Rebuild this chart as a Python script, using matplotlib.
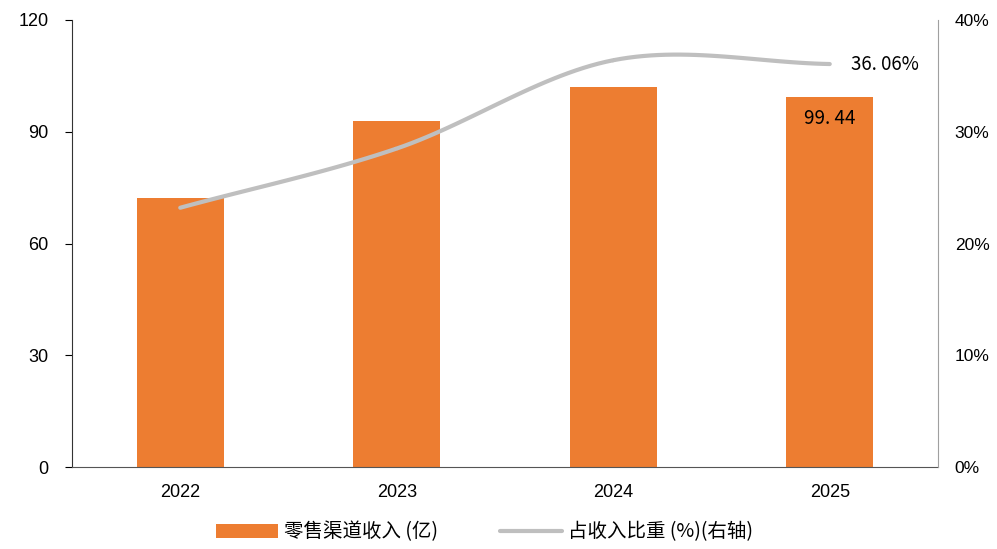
import numpy as np
import matplotlib
matplotlib.use("Agg")
import matplotlib.pyplot as plt
from matplotlib.ticker import FuncFormatter

plt.rcParams['font.family'] = ['Liberation Sans', 'Noto Sans CJK SC', 'DejaVu Sans']

years = ['2022', '2023', '2024', '2025']
income = [72.2, 92.9, 102.0, 99.44]      # 零售渠道收入 (亿)
share = [23.2, 28.5, 36.4, 36.06]        # 占收入比重 (%)

def smooth(xs, ys, n=30):
    # catmull-rom, like excel smoothed line
    xs = np.asarray(xs, float); ys = np.asarray(ys, float)
    px = np.concatenate([[2*xs[0]-xs[1]], xs, [2*xs[-1]-xs[-2]]])
    py = np.concatenate([[2*ys[0]-ys[1]], ys, [2*ys[-1]-ys[-2]]])
    ox, oy = [], []
    for i in range(1, len(px)-2):
        t = np.linspace(0, 1, n)
        for p, o in ((px, ox), (py, oy)):
            p0, p1, p2, p3 = p[i-1], p[i], p[i+1], p[i+2]
            o.extend(0.5*((2*p1) + (-p0+p2)*t + (2*p0-5*p1+4*p2-p3)*t**2 + (-p0+3*p1-3*p2+p3)*t**3))
    return np.array(ox), np.array(oy)

fig = plt.figure(figsize=(9.97, 5.49), dpi=100)
ax = fig.add_axes([72/997, 1-467/549, (938-72)/997, (467-20)/549])
x = np.arange(len(years))
b = ax.bar(x, income, width=0.4, color='#ED7D31', label='零售渠道收入 (亿)', zorder=2)
ax.set_xlim(-0.5, 3.5)
ax.set_ylim(0, 120)
ax.set_yticks([0, 30, 60, 90, 120])
ax.set_xticks(x)
ax.set_xticklabels(years)
ax.tick_params(axis='y', labelsize=13, length=5, direction='out', pad=12)
ax.tick_params(axis='x', labelsize=13, length=0, pad=12)
for s in ['top', 'right']:
    ax.spines[s].set_visible(False)
ax.spines['left'].set_color('#333333')
ax.spines['bottom'].set_color('#555555')

ax2 = ax.twinx()
sx, sy = smooth(x, share)
ln, = ax2.plot(sx, sy, color='#BFBFBF', lw=3, solid_capstyle='round', label='占收入比重 (%)(右轴)', zorder=3)
ax2.set_ylim(0, 40)
ax2.set_yticks([0, 10, 20, 30, 40])
ax2.yaxis.set_major_formatter(FuncFormatter(lambda v, p: f'{v:.0f}%'))
ax2.tick_params(axis='y', labelsize=12.5, length=0, pad=12)
for s in ['top', 'left', 'bottom']:
    ax2.spines[s].set_visible(False)
ax2.spines['right'].set_color('#A0A0A0')

ax.text(x[-1], income[-1] - 3, '99. 44', ha='center', va='top', fontsize=13.5,
        family=['Noto Sans CJK SC', 'DejaVu Sans'])
ax2.text(x[-1] + 0.1, share[-1], '36. 06%', ha='left', va='center', fontsize=13.5,
         family=['Noto Sans CJK SC', 'DejaVu Sans'])

fig.legend([b, ln], ['零售渠道收入 (亿)', '占收入比重 (%)(右轴)'], loc='center',
           bbox_to_anchor=(0.486, 1-532/549), ncol=2, frameon=False,
           columnspacing=3.2, handlelength=3.2, handletextpad=0.3,
           prop={'family': ['Noto Sans CJK SC', 'DejaVu Sans'], 'size': 14})

fig.savefig('out.png', dpi=100)
